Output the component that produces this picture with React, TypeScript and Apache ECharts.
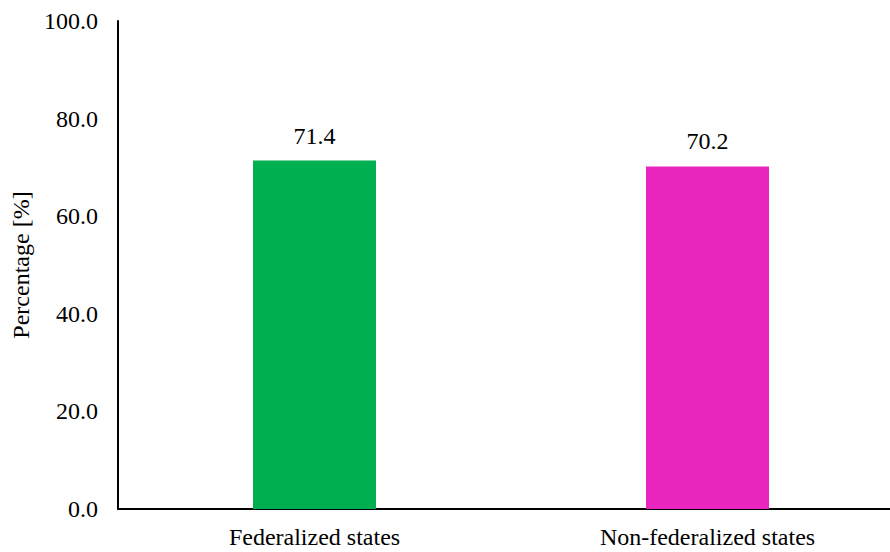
import React, { useEffect, useRef } from "react";
import * as echarts from "echarts";

const categories = ["Federalized states", "Non-federalized states"];
const values = [71.4, 70.2];
const barColors = ["#00B050", "#E925BE"];
const yTicks = { min: 0, max: 100, interval: 20 };

export default function App() {
  const ref = useRef<HTMLDivElement>(null);
  useEffect(() => {
    if (!ref.current) return;
    const chart = echarts.init(ref.current, null, { renderer: "svg" });
    const font = "'Liberation Serif', 'Times New Roman', serif";
    chart.setOption({
      animation: false,
      backgroundColor: "#ffffff",
      textStyle: { fontFamily: font },
      grid: { left: 118, top: 21, width: 786, height: 488, containLabel: false },
      xAxis: {
        type: "category",
        data: categories,
        axisLine: { show: true, lineStyle: { color: "#000", width: 2 } },
        axisTick: { show: false },
        axisLabel: { color: "#000", fontSize: 24, fontFamily: font, margin: 16 },
      },
      yAxis: {
        type: "value",
        min: yTicks.min,
        max: yTicks.max,
        interval: yTicks.interval,
        name: "Percentage [%]",
        nameLocation: "middle",
        nameGap: 84,
        nameTextStyle: { color: "#000", fontSize: 24, fontFamily: font },
        axisLine: { show: true, lineStyle: { color: "#000", width: 2 } },
        axisTick: { show: false },
        splitLine: { show: false },
        axisLabel: {
          color: "#000",
          fontSize: 24,
          fontFamily: font,
          margin: 20,
          formatter: (v: number) => v.toFixed(1),
        },
      },
      series: [
        {
          type: "bar",
          barWidth: 123,
          data: values.map((v, i) => ({ value: v, itemStyle: { color: barColors[i] } })),
          label: {
            show: true,
            position: "top",
            distance: 13,
            color: "#000",
            fontSize: 24,
            fontFamily: font,
            fontWeight: "normal",
            formatter: (p: any) => Number(p.value).toFixed(1),
          },
        },
      ],
    });
    return () => chart.dispose();
  }, []);
  return (
    <div style={{ position: "absolute", left: 0, top: 0, width: 890, height: 552, overflow: "hidden", background: "#fff" }}>
      <div ref={ref} style={{ width: 910, height: 552 }} />
    </div>
  );
}
